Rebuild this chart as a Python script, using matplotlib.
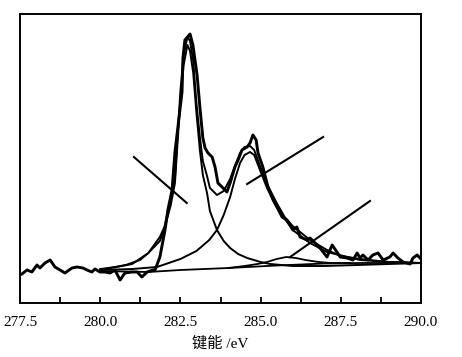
import matplotlib
matplotlib.use('Agg')
import matplotlib.pyplot as plt

# measured spectrum (binding energy / intensity, arbitrary units)
raw_e = [277.56, 277.72, 277.87, 278.03, 278.12, 278.28, 278.44, 278.59, 278.75, 278.90,
         279.12, 279.28, 279.46, 279.59, 279.74, 279.84, 279.99, 280.15, 280.31, 280.46,
         280.62, 280.77, 280.99, 281.15, 281.30, 281.46, 281.65, 281.71, 281.86, 282.02,
         282.11, 282.24, 282.33, 282.43, 282.55, 282.58, 282.64, 282.80, 282.89, 283.02,
         283.11, 283.20, 283.27, 283.36, 283.49, 283.58, 283.67, 283.83, 283.95, 284.05,
         284.20, 284.30, 284.42, 284.58, 284.67, 284.76, 284.86, 284.92, 285.07, 285.23,
         285.39, 285.51, 285.67, 285.82, 285.92, 286.01, 286.13, 286.23, 286.45, 286.54,
         286.70, 286.85, 287.07, 287.23, 287.38, 287.48, 287.69, 287.88, 288.01, 288.10,
         288.19, 288.35, 288.50, 288.66, 288.82, 289.03, 289.13, 289.28, 289.44, 289.66,
         289.75, 289.88, 289.97]
raw_i = [29, 33, 31, 38, 35, 40, 43, 36, 33, 30,
         35, 36, 35, 33, 31, 34, 31, 31, 30, 33,
         23, 30, 31, 31, 26, 31, 33, 33, 46, 73,
         93, 113, 151, 178, 211, 245, 263, 269, 258, 228,
         195, 165, 155, 150, 146, 136, 120, 115, 111, 120,
         136, 143, 153, 156, 160, 168, 163, 150, 136, 116,
         103, 96, 86, 83, 78, 73, 76, 66, 63, 65,
         60, 55, 46, 58, 51, 46, 45, 43, 50, 45,
         48, 43, 48, 50, 43, 46, 50, 45, 41, 39,
         45, 48, 45]

# fitted envelope
env_e = [280.0, 280.5, 281.0, 281.5, 281.86, 282.0, 282.2, 282.33, 282.4, 282.5,
         282.6, 282.72, 282.8, 282.9, 283.0, 283.11, 283.2, 283.33, 283.42, 283.64,
         283.85, 284.05, 284.2, 284.36, 284.5, 284.67, 284.8, 284.98, 285.2, 285.5,
         285.75, 286.0, 286.54, 287.07, 287.5, 288.1, 289.0, 290.0]
env_i = [34, 36, 39, 50, 66, 76, 104, 125, 161, 212,
         248, 266, 262, 242, 200, 165, 142, 127, 115, 108,
         112, 124, 137, 150, 156, 157, 153, 137, 119, 100,
         86, 77, 63, 53, 47, 44, 41, 40]

# component peaks
c1_e = [280.0, 280.3, 280.8, 281.24, 281.5, 281.86, 282.0, 282.2, 282.33, 282.4,
        282.5, 282.6, 282.72, 282.8, 282.9, 283.0, 283.11, 283.2, 283.33, 283.42,
        283.64, 283.85, 284.05, 284.3, 284.58, 285.0, 285.3, 286.0, 287.0, 288.0,
        289.0, 290.0]
c1_i = [33, 35, 38, 43, 50, 62, 74, 98, 120, 155,
        203, 238, 258, 252, 230, 190, 152, 128, 110, 92,
        73, 62, 55, 49, 45, 41, 39, 37, 37, 38,
        39, 40]
c2_e = [280.0, 281.0, 281.77, 282.5, 283.0, 283.4, 283.64, 283.85, 284.05, 284.2,
        284.36, 284.5, 284.67, 284.8, 284.98, 285.2, 285.5, 286.0, 286.54, 287.07,
        288.1, 289.0, 290.0]
c2_i = [33, 34, 36, 44, 52, 63, 73, 88, 106, 124,
        140, 148, 151, 148, 133, 115, 96, 73, 60, 51,
        43, 41, 40]
c3_e = [284.0, 284.5, 284.9, 285.2, 285.5, 285.8, 286.1, 286.4, 286.8, 287.2, 287.8]
c3_i = [35, 37, 39, 41, 44, 46, 45, 43, 41, 40, 40]

# background
bg_e = [280.0, 281.5, 282.5, 284.0, 285.5, 287.0, 288.1, 290.0]
bg_i = [32, 31, 33, 35, 37.5, 39.5, 40, 40]

# leader lines (no labels)
leaders = [([281.05, 282.70], [146, 100]),
           ([284.58, 286.95], [119, 166]),
           ([285.92, 288.41], [46, 102])]

xticks = [277.5, 280.0, 282.5, 285.0, 287.5, 290.0]

fig = plt.figure(figsize=(4.62, 3.57), dpi=100)
ax = fig.add_axes([20 / 462, 54 / 357, 401 / 462, 289 / 357])

ax.plot(bg_e, bg_i, color='black', lw=1.3)
ax.plot(c3_e, c3_i, color='black', lw=1.3)
ax.plot(c1_e, c1_i, color='black', lw=1.4)
ax.plot(c2_e, c2_i, color='black', lw=1.4)
ax.plot(env_e, env_i, color='black', lw=1.4)
ax.plot(raw_e, raw_i, color='black', lw=2.1)
for xs, ys in leaders:
    ax.plot(xs, ys, color='black', lw=1.5)

ax.set_xlim(277.5, 290.0)
ax.set_ylim(0, 289)
ax.set_xticks(xticks)
ax.set_xticklabels(['%.1f' % t for t in xticks], fontfamily='Liberation Serif', fontsize=11)
ax.set_xticks([278.75, 281.25, 283.75, 286.25, 288.75], minor=True)
ax.tick_params(axis='x', which='both', direction='in', length=4, width=1.3, pad=9)
ax.tick_params(axis='y', left=False, labelleft=False)
for s in ax.spines.values():
    s.set_linewidth(1.4)

ax.set_xlabel('键能 /eV', family=['Liberation Serif', 'Noto Sans CJK SC'], fontsize=11, labelpad=6)

fig.savefig('out.png', dpi=100)
